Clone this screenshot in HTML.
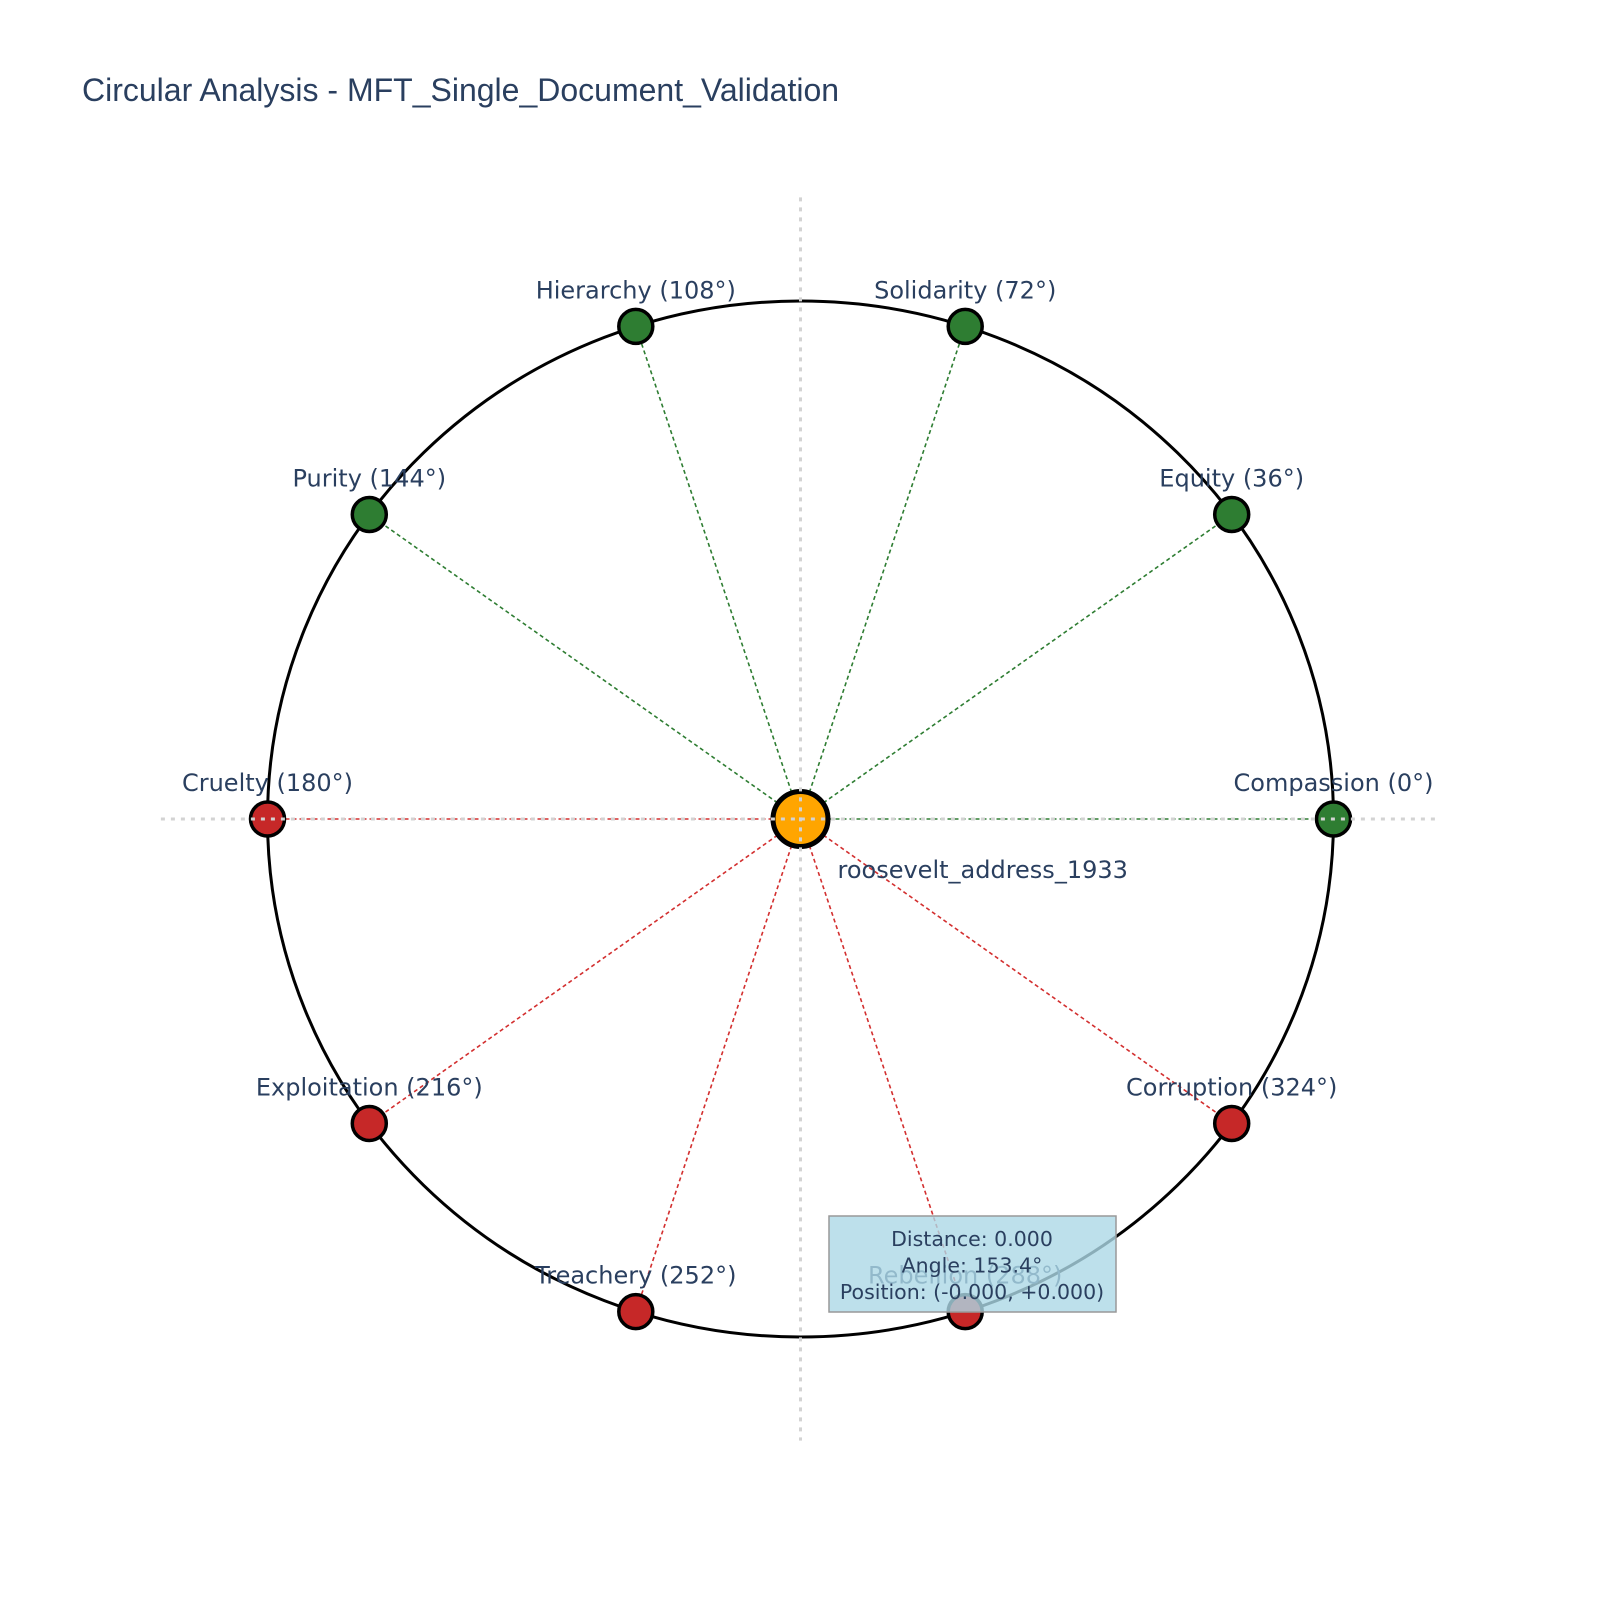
<!DOCTYPE html>
<html><head><meta charset="utf-8"><style>
body{margin:0;background:#fff}
text{font-family:"DejaVu Sans","Liberation Sans",sans-serif}
</style></head><body>
<svg id="chart" width="1600" height="1600" viewBox="0 0 1600 1600">
<rect width="1600" height="1600" fill="#fff"/>
<text x="82" y="101" font-size="32" fill="#2a3f5f" style="font-family:'Liberation Sans',sans-serif">Circular Analysis - MFT_Single_Document_Validation</text>
<g id="spokes"></g>
<ellipse cx="800.5" cy="819" rx="533" ry="518" fill="none" stroke="#000" stroke-width="3"/>
<g id="points"></g>
<g id="doc"></g>
<g id="zero"></g>
<g id="anno"></g>
</svg>
<script>
const names=["Compassion","Equity","Solidarity","Hierarchy","Purity","Cruelty","Exploitation","Treachery","Rebellion","Corruption"];
const angles=[0,36,72,108,144,180,216,252,288,324];
const polarity=["virtue","virtue","virtue","virtue","virtue","vice","vice","vice","vice","vice"];
const docName="roosevelt_address_1933";
const docX=[0.0];
const docY=[0.0];
const ns="http://www.w3.org/2000/svg";
const cx=800.5,cy=819,rx=533,ry=518;
const sx=v=>cx+v*rx, sy=v=>cy-v*ry;
function mk(t,a,p){const e=document.createElementNS(ns,t);for(const k in a)e.setAttribute(k,a[k]);p.appendChild(e);return e;}
const sp=document.getElementById('spokes'),pt=document.getElementById('points');
const dx=sx(docX[0]),dy=sy(docY[0]);
names.forEach((n,i)=>{
 const r=angles[i]*Math.PI/180,x=sx(Math.cos(r)),y=sy(Math.sin(r));
 const col=polarity[i]==="virtue"?"#2e7d32":"#c62828";
 const l=mk('line',{x1:dx,y1:dy,x2:x,y2:y,stroke:polarity[i]==="virtue"?"#2e7d32":"#d32f2f","stroke-width":1.6,"stroke-dasharray":"4,3"},sp);
 
 
 const c=mk('circle',{cx:x,cy:y,r:17,fill:col,stroke:"#000","stroke-width":3.5},pt);
 
 
 const t=mk('text',{x:x,y:y-28,"text-anchor":"middle","font-size":24,fill:"#2a3f5f"},pt);
 t.textContent=n+" ("+angles[i]+"°)";
 
 
});
const dg=document.getElementById('doc');
const dc=mk('circle',{cx:dx,cy:dy,r:27.5,fill:"#ffa500",stroke:"#000","stroke-width":5},dg);


const dt=mk('text',{x:dx+37,y:dy+59,"font-size":24,fill:"#2a3f5f"},dg);
dt.textContent=docName;


const z=document.getElementById('zero');
const zv=mk('line',{x1:sx(0),y1:sy(1.2),x2:sx(0),y2:sy(-1.2),stroke:"#d3d3d3","stroke-width":3,"stroke-dasharray":"4,6"},z);


const zh=mk('line',{x1:sx(-1.2),y1:sy(0),x2:sx(1.2),y2:sy(0),stroke:"#d3d3d3","stroke-width":3,"stroke-dasharray":"4,6"},z);


const a=document.getElementById('anno');
const box=mk('rect',{x:829,y:1216,width:287,height:96,fill:"#add8e6","fill-opacity":0.8,stroke:"#999","stroke-width":1.5},a);


["Distance: 0.000","Angle: 153.4°","Position: (-0.000, +0.000)"].forEach((s,i)=>{
 const t=mk('text',{x:972,y:1246+i*26.5,"text-anchor":"middle","font-size":20.5,fill:"#2a3f5f"},a);
 t.textContent=s;
 
 
});
</script>
</body></html>
